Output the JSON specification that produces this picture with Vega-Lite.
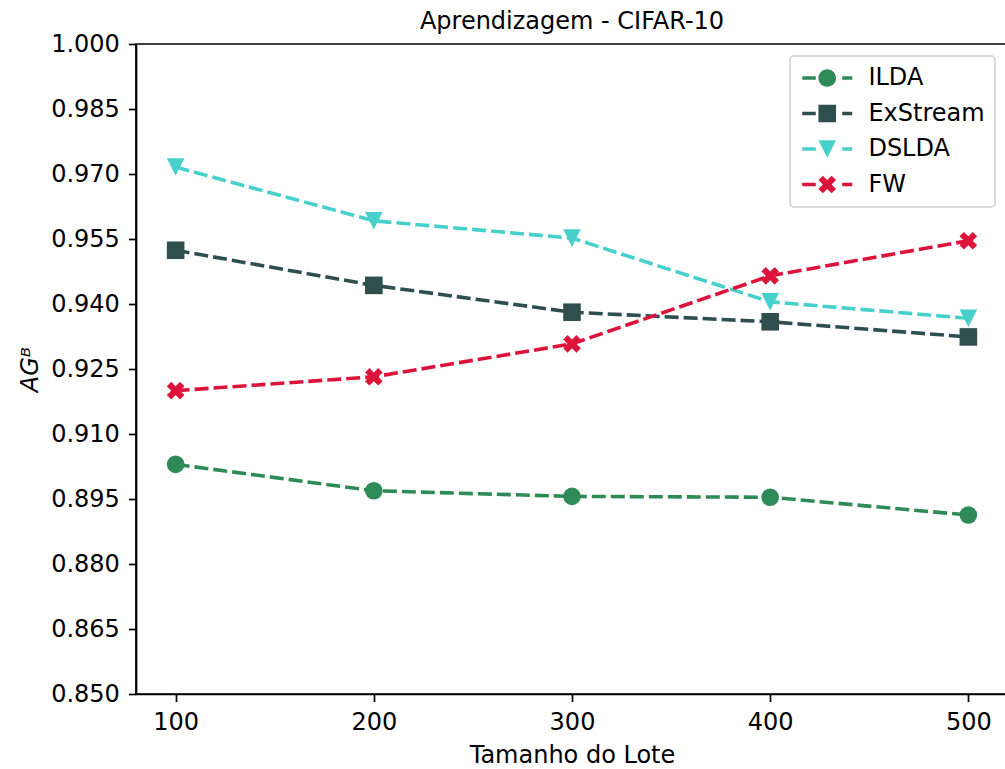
{
  "$schema": "https://vega.github.io/schema/vega-lite/v6.json",
  "width": 872,
  "height": 650,
  "autosize": {"type": "none"},
  "padding": {"left": 136, "top": 44, "right": 0, "bottom": 75},
  "background": "white",
  "config": {
    "font": "DejaVu Sans",
    "view": {"stroke": "black", "strokeWidth": 1.7},
    "axis": {
      "domainColor": "black",
      "domainWidth": 1.7,
      "tickColor": "black",
      "tickWidth": 1.7,
      "tickSize": 7.6,
      "labelFontSize": 24,
      "labelColor": "black",
      "labelPadding": 9,
      "labelFlush": false,
      "labelOverlap": false,
      "titleFontSize": 24,
      "titleFontWeight": "normal",
      "titleColor": "black",
      "grid": false
    }
  },
  "title": {
    "text": "Aprendizagem - CIFAR-10",
    "fontSize": 24,
    "fontWeight": "normal",
    "color": "black",
    "frame": "group",
    "offset": -2
  },
  "data": {
    "values": [
      {"method": "ILDA", "batch": 100, "value": 0.9030},
      {"method": "ILDA", "batch": 200, "value": 0.8969},
      {"method": "ILDA", "batch": 300, "value": 0.8956},
      {"method": "ILDA", "batch": 400, "value": 0.8954},
      {"method": "ILDA", "batch": 500, "value": 0.8913},
      {"method": "ExStream", "batch": 100, "value": 0.9524},
      {"method": "ExStream", "batch": 200, "value": 0.9443},
      {"method": "ExStream", "batch": 300, "value": 0.9381},
      {"method": "ExStream", "batch": 400, "value": 0.9359},
      {"method": "ExStream", "batch": 500, "value": 0.9324},
      {"method": "DSLDA", "batch": 100, "value": 0.9716},
      {"method": "DSLDA", "batch": 200, "value": 0.9592},
      {"method": "DSLDA", "batch": 300, "value": 0.9552},
      {"method": "DSLDA", "batch": 400, "value": 0.9405},
      {"method": "DSLDA", "batch": 500, "value": 0.9367},
      {"method": "FW", "batch": 100, "value": 0.9200},
      {"method": "FW", "batch": 200, "value": 0.9232},
      {"method": "FW", "batch": 300, "value": 0.9308},
      {"method": "FW", "batch": 400, "value": 0.9465},
      {"method": "FW", "batch": 500, "value": 0.9546}
    ]
  },
  "encoding": {
    "x": {
      "field": "batch",
      "type": "quantitative",
      "scale": {"domain": [80, 520], "nice": false, "zero": false},
      "axis": {"values": [100, 200, 300, 400, 500], "title": "Tamanho do Lote", "titlePadding": 9}
    },
    "y": {
      "field": "value",
      "type": "quantitative",
      "scale": {"domain": [0.85, 1.0], "nice": false, "zero": false},
      "axis": {
        "values": [0.85, 0.865, 0.88, 0.895, 0.91, 0.925, 0.94, 0.955, 0.97, 0.985, 1.0],
        "format": ".3f",
        "title": "AGᴮ",
        "titleFontStyle": "italic",
        "titlePadding": 8
      }
    }
  },
  "resolve": {"legend": {"color": "independent", "shape": "independent"}},
  "layer": [
    {
      "mark": {"type": "line", "strokeDash": [14, 5], "strokeWidth": 3.6, "strokeCap": "butt"},
      "encoding": {
        "color": {
          "field": "method",
          "type": "nominal",
          "scale": {"domain": ["ILDA", "ExStream", "DSLDA", "FW"], "range": ["#2E8B57", "#2F4F4F", "#48D1CC", "#DC143C"]},
          "legend": {
            "orient": "none",
            "legendX": 654,
            "legendY": 12,
            "title": null,
            "labelFontSize": 24,
            "labelColor": "black",
            "labelLimit": 300,
            "padding": 10,
            "rowPadding": 11.5,
            "symbolSize": 310,
            "labelOffset": 44.4,
            "fillColor": "white",
            "strokeColor": "#cccccc",
            "cornerRadius": 4,
            "encode": {
              "legend": {"update": {"strokeWidth": {"value": 1.5}}},
              "symbols": {
                "update": {
                  "shape": {"signal": "datum.value === 'ILDA' ? 'M-1.11,-0.2H0.43V0.2H-1.11Z M3.43,-0.2H4.57V0.2H3.43Z M2.73,0A1,1,0,1,1,0.73,0A1,1,0,1,1,2.73,0Z' : datum.value === 'ExStream' ? 'M-1.11,-0.2H0.43V0.2H-1.11Z M3.43,-0.2H4.57V0.2H3.43Z M0.73,-1H2.73V1H0.73Z' : datum.value === 'DSLDA' ? 'M-1.11,-0.2H0.43V0.2H-1.11Z M3.43,-0.2H4.57V0.2H3.43Z M0.73,-1H2.73L1.73,1Z' : 'M-1.11,-0.2H0.43V0.2H-1.11Z M3.43,-0.2H4.57V0.2H3.43Z M2.23,-1L2.73,-0.5L2.23,0L2.73,0.5L2.23,1L1.73,0.5L1.23,1L0.73,0.5L1.23,0L0.73,-0.5L1.23,-1L1.73,-0.5Z'"},
                  "fill": {"scale": "color", "field": "value"},
                  "stroke": {"value": "transparent"},
                  "strokeWidth": {"value": 0},
                  "strokeDash": {"value": []},
                  "opacity": {"value": 1},
                  "size": {"value": 310}
                }
              }
            }
          }
        }
      }
    },
    {
      "mark": {"type": "point", "filled": true, "opacity": 1, "size": 310, "strokeWidth": 0},
      "encoding": {
        "color": {
          "field": "method",
          "type": "nominal",
          "scale": {"domain": ["ILDA", "ExStream", "DSLDA", "FW"], "range": ["#2E8B57", "#2F4F4F", "#48D1CC", "#DC143C"]},
          "legend": null
        },
        "shape": {
          "field": "method",
          "type": "nominal",
          "scale": {"domain": ["ILDA", "ExStream", "DSLDA", "FW"], "range": ["circle", "square", "M-1,-1H1L0,1Z", "M0.5,-1L1,-0.5L0.5,0L1,0.5L0.5,1L0,0.5L-0.5,1L-1,0.5L-0.5,0L-1,-0.5L-0.5,-1L0,-0.5Z"]},
          "legend": null
        }
      }
    }
  ]
}
